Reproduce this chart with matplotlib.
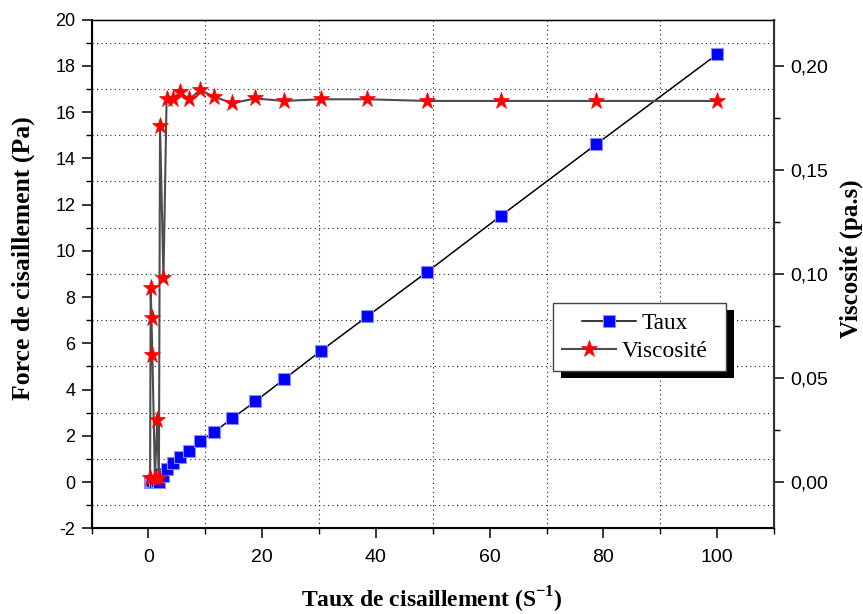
import matplotlib
matplotlib.use("Agg")
import matplotlib.pyplot as plt
from matplotlib.ticker import MultipleLocator, FuncFormatter
from matplotlib.lines import Line2D
from matplotlib.patches import Rectangle

plt.rcParams['axes.unicode_minus'] = False
plt.rcParams['mathtext.fontset'] = 'custom'
plt.rcParams['mathtext.rm'] = 'Liberation Serif'
plt.rcParams['mathtext.bf'] = 'Liberation Serif:bold'

# ---- data ----
shear_rate = [0.30, 0.40, 0.55, 0.70, 1.15, 1.55, 1.85, 2.05, 2.65, 3.20,
              4.27, 5.60, 7.20, 9.10, 11.6, 14.75, 18.8, 23.8, 30.3, 38.5,
              48.9, 62.0, 78.7, 100.0]
shear_stress = [0.00, 0.04, 0.04, 0.04, 0.00, 0.05, 0.00, 0.35, 0.26, 0.55,
                0.81, 1.07, 1.36, 1.76, 2.18, 2.76, 3.49, 4.44, 5.67, 7.17,
                9.07, 11.52, 14.60, 18.50]
viscosity = [0.0020, 0.0931, 0.0787, 0.0611, 0.0020, 0.0298, 0.0020, 0.1712,
             0.0979, 0.1840, 0.1840, 0.1872, 0.1840, 0.1883, 0.1851, 0.1820,
             0.1843, 0.1831, 0.1839, 0.1839, 0.1831, 0.1831, 0.1831, 0.1831]

W, H = 863, 614
fig = plt.figure(figsize=(W / 100, H / 100), dpi=100)
fig.subplots_adjust(left=91.5 / W, right=774.1 / W, bottom=1 - 528.4 / H, top=1 - 19.5 / H)
ax = fig.add_subplot(111)
ax2 = ax.twinx()

ax.plot(shear_rate, shear_stress, color='black', lw=1.1, marker='s', ms=8.3,
        mfc='#0000ff', mec='#8c8cff', mew=0.8, zorder=3)
ax2.plot(shear_rate, viscosity, color='#4d4d4d', lw=1.5, marker='*', ms=12.5,
         mfc='#ff0000', mec='#ff0000', mew=0.5, zorder=3)

ax.set_xlim(-10, 110)
ax.set_ylim(-2, 20)
ax2.set_ylim(-2 / 90, 20 / 90)

ax.xaxis.set_major_locator(MultipleLocator(20))
ax.xaxis.set_minor_locator(MultipleLocator(10))
ax.yaxis.set_major_locator(MultipleLocator(2))
ax.yaxis.set_minor_locator(MultipleLocator(1))
ax2.yaxis.set_major_locator(MultipleLocator(0.05))
ax2.yaxis.set_minor_locator(MultipleLocator(0.025))
ax2.yaxis.set_major_formatter(FuncFormatter(lambda v, p: f"{v:.2f}".replace('.', ',')))

ax.grid(which='minor', linestyle=(0, (1, 3)), lw=0.8, color='#222222')
ax.grid(which='major', visible=False)

for a in (ax, ax2):
    a.tick_params(which='major', length=7.5, width=1.1, direction='out')
    a.tick_params(which='minor', length=4, width=1.0, direction='out')
ax.tick_params(axis='x', which='major', labelsize=14, pad=7)
ax.tick_params(axis='y', which='major', labelsize=13, pad=4)
ax2.tick_params(axis='y', which='major', labelsize=14, pad=4)
for lab in ax.get_xticklabels() + ax.get_yticklabels() + ax2.get_yticklabels():
    lab.set_fontfamily('Liberation Sans')

for s in ('left', 'bottom'):
    ax.spines[s].set_linewidth(1.5)
ax.spines['top'].set_linewidth(1.0)
ax2.spines['right'].set_linewidth(1.5)
ax2.spines['right'].set_color('#333333')

fig.text(23 / W, 1 - 258 / H, 'Force de cisaillement (Pa)', rotation=90, ha='center', va='center',
         family='Liberation Serif', weight='bold', fontsize=18.5)
fig.text(851 / W, 1 - 259 / H, 'Viscosité (pa.s)', rotation=90, ha='center', va='center',
         family='Liberation Serif', weight='bold', fontsize=18)
fig.text(432 / W, 1 - 600 / H, r'Taux de cisaillement (S$^{\mathbf{-1}}$)', ha='center', va='center',
         family='Liberation Serif', weight='bold', fontsize=17)

h1 = Line2D([], [], color='black', lw=1.1, marker='s', ms=8.3, mfc='#0000ff', mec='#8c8cff', mew=0.8)
h2 = Line2D([], [], color='#4d4d4d', lw=1.5, marker='*', ms=12.5, mfc='#ff0000', mec='#ff0000', mew=0.5)
leg = ax2.legend([h1, h2], ['Taux', 'Viscosité'], loc='upper left',
                 bbox_to_anchor=(553 / W, 1 - 372 / H, 173 / W, 69 / H), bbox_transform=fig.transFigure,
                 mode='expand', borderaxespad=0, fancybox=False, frameon=True, framealpha=1,
                 edgecolor='#444444', prop={'family': 'Liberation Serif', 'size': 16.8},
                 handlelength=2.3, handletextpad=0.26, labelspacing=0.3, borderpad=0.4)
leg.get_frame().set_linewidth(1.0)
for col in leg._legend_handle_box.get_children():
    col.align = 'center'

fig.canvas.draw()
bb = leg.get_window_extent().transformed(fig.transFigure.inverted())
shadow = Rectangle((bb.x0 + 8 / W, bb.y0 - 7 / H), bb.width, bb.height,
                   transform=fig.transFigure, facecolor='black', edgecolor='none',
                   zorder=4.9, clip_on=False)
ax2.add_artist(shadow)

fig.savefig('out.png', dpi=100)
